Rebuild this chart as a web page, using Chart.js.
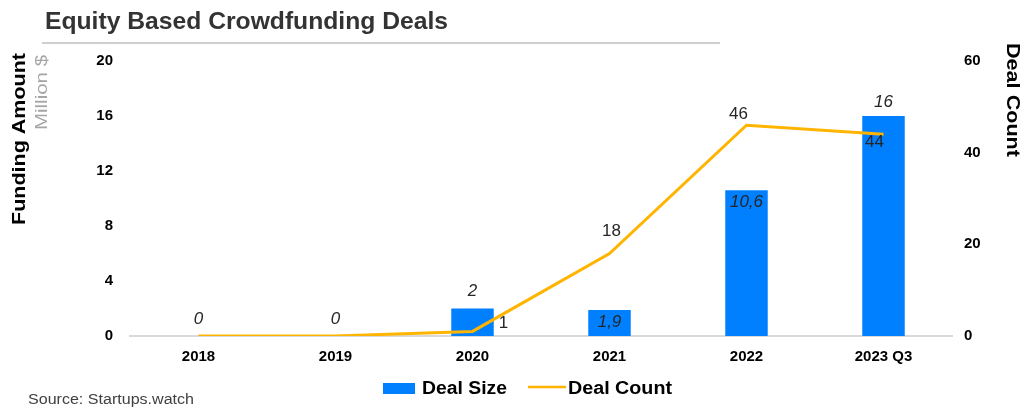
<!DOCTYPE html>
<html>
<head>
<meta charset="utf-8">
<script src="https://cdn.jsdelivr.net/npm/chart.js@4.4.1/dist/chart.umd.min.js"></script>
<style>
    html, body { margin: 0; padding: 0; background: #fff; }
    #wrap { width: 1029px; height: 409px; position: relative; }
</style>
</head>
<body>
<div id="wrap"><canvas id="chart"></canvas></div>
<script>
const CATEGORIES = ["2018", "2019", "2020", "2021", "2022", "2023 Q3"];
const DEAL_SIZE  = [0, 0, 2, 1.9, 10.6, 16];     // million $
const DEAL_COUNT = [0, 0, 1, 18, 46, 44];
const LEFT_TICKS  = [0, 4, 8, 12, 16, 20];
const RIGHT_TICKS = [0, 20, 40, 60];

const BAR_COLOR  = "rgb(0, 128, 255)";
const LINE_COLOR = "rgb(255, 180, 0)";
const FONT = "'Liberation Sans', Arial, sans-serif";
const TEXT = "#262626";

const fmt = v => String(v).replace(".", ",");

// which bar labels sit inside the bar top
const barLabelInside = [false, false, false, true, true, false];

// draw text stretched/squeezed horizontally to a given width
function fitText(ctx, text, x, y, width) {
    const w = ctx.measureText(text).width;
    ctx.save();
    ctx.translate(x, y);
    ctx.scale(width / w, 1);
    ctx.fillText(text, 0, 0);
    ctx.restore();
}

const decorations = {
    id: "decorations",
    afterDatasetsDraw(chart) {
        const ctx = chart.ctx;
        const bars = chart.getDatasetMeta(0).data;
        const pts  = chart.getDatasetMeta(1).data;
        ctx.save();
        ctx.textAlign = "center";
        ctx.textBaseline = "middle";

        // bar labels (italic)
        ctx.font = `italic 17px ${FONT}`;
        ctx.fillStyle = TEXT;
        bars.forEach((b, i) => {
            let y = barLabelInside[i] ? b.y + 12 : b.y - 17;
            if (i === 5) y = b.y - 14;
            ctx.fillText(fmt(DEAL_SIZE[i]), b.x, y);
        });

        // line labels
        ctx.font = `17px ${FONT}`;
        pts.forEach((p, i) => {
            const v = DEAL_COUNT[i];
            if (v === 0) return;
            if (i === 2) ctx.fillText(fmt(v), p.x + 31, p.y - 8);
            else if (i === 3) ctx.fillText(fmt(v), p.x + 2, p.y - 22);
            else if (i === 4) ctx.fillText(fmt(v), p.x - 8, p.y - 11);
            else if (i === 5) ctx.fillText(fmt(v), p.x - 9, p.y + 8);
            else ctx.fillText(fmt(v), p.x, p.y - 12);
        });
        ctx.restore();
    },
    afterDraw(chart) {
        const ctx = chart.ctx;
        ctx.save();
        ctx.textAlign = "left";
        ctx.textBaseline = "alphabetic";

        // title + rule
        ctx.fillStyle = "#333";
        ctx.font = `bold 24px ${FONT}`;
        fitText(ctx, "Equity Based Crowdfunding Deals", 45, 29, 403);
        ctx.strokeStyle = "#bfbfbf";
        ctx.lineWidth = 1.5;
        ctx.beginPath();
        ctx.moveTo(42, 43);
        ctx.lineTo(720, 43);
        ctx.stroke();

        // left axis titles
        ctx.save();
        ctx.translate(25, 225);
        ctx.rotate(-Math.PI / 2);
        ctx.fillStyle = "#000";
        ctx.font = `bold 19px ${FONT}`;
        fitText(ctx, "Funding Amount", 0, 0, 172);
        ctx.restore();

        ctx.save();
        ctx.translate(47, 130);
        ctx.rotate(-Math.PI / 2);
        ctx.fillStyle = "#a6a6a6";
        ctx.font = `17px ${FONT}`;
        fitText(ctx, "Million $", 0, 0, 75);
        ctx.restore();

        // right axis title
        ctx.save();
        ctx.translate(1007, 43);
        ctx.rotate(Math.PI / 2);
        ctx.fillStyle = "#000";
        ctx.font = `bold 19px ${FONT}`;
        fitText(ctx, "Deal Count", 0, 0, 114);
        ctx.restore();

        // legend
        ctx.fillStyle = BAR_COLOR;
        ctx.fillRect(383, 383, 32, 11);
        ctx.fillStyle = "#000";
        ctx.font = `bold 18px ${FONT}`;
        fitText(ctx, "Deal Size", 422, 394, 85);
        ctx.strokeStyle = LINE_COLOR;
        ctx.lineWidth = 2.5;
        ctx.beginPath();
        ctx.moveTo(528, 387);
        ctx.lineTo(566, 387);
        ctx.stroke();
        fitText(ctx, "Deal Count", 568, 394, 104);

        // source
        ctx.fillStyle = "#404040";
        ctx.font = `14px ${FONT}`;
        fitText(ctx, "Source: Startups.watch", 28, 404, 166);
        ctx.restore();
    }
};

new Chart(document.getElementById("chart").getContext("2d"), {
    type: "bar",
    data: {
        labels: CATEGORIES,
        datasets: [
            {
                type: "bar",
                label: "Deal Size",
                data: DEAL_SIZE,
                backgroundColor: BAR_COLOR,
                yAxisID: "y",
                barPercentage: 0.31,
                categoryPercentage: 1,
                order: 2,
            },
            {
                type: "line",
                label: "Deal Count",
                data: DEAL_COUNT,
                borderColor: LINE_COLOR,
                borderWidth: 3,
                pointRadius: 0,
                tension: 0,
                yAxisID: "y1",
                order: 1,
            }
        ]
    },
    options: {
        responsive: true,
        maintainAspectRatio: false,
        animation: false,
        layout: { padding: { top: 61, left: 0, right: 0, bottom: 0 } },
        plugins: {
            legend: { display: false },
            tooltip: { enabled: false },
        },
        scales: {
            x: {
                grid: { display: false, drawTicks: false },
                border: { display: true, color: "#d9d9d9", width: 2 },
                ticks: { color: "#000", font: { family: FONT, size: 15, weight: "bold" }, padding: 12 },
                afterFit: s => { s.height = 73; },
            },
            y: {
                position: "left",
                min: 0, max: 20,
                afterBuildTicks: s => { s.ticks = LEFT_TICKS.map(v => ({ value: v })); },
                grid: { display: false, drawTicks: false },
                border: { display: false },
                ticks: { color: "#000", font: { family: FONT, size: 15, weight: "bold" }, padding: 17 },
                afterFit: s => { s.width = 130; },
            },
            y1: {
                position: "right",
                min: 0, max: 60,
                afterBuildTicks: s => { s.ticks = RIGHT_TICKS.map(v => ({ value: v })); },
                grid: { display: false, drawTicks: false },
                border: { display: false },
                ticks: { color: "#000", font: { family: FONT, size: 15, weight: "bold" }, padding: 12 },
                afterFit: s => { s.width = 77; },
            }
        }
    },
    plugins: [decorations]
});
</script>
</body>
</html>
